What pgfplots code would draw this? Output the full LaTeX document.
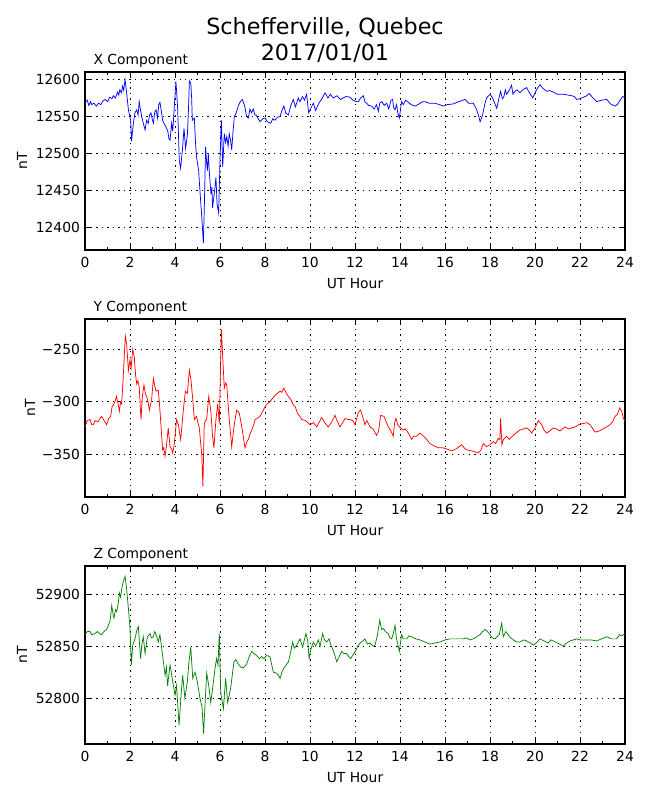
\documentclass[border=0pt]{standalone}
\usepackage{fontspec}
\setmainfont{DejaVu Sans}
\usepackage{pgfplots}
\pgfplotsset{compat=1.18}
\definecolor{mplgreen}{rgb}{0,0.5,0}
\pgfplotsset{
 magaxis/.style={
  scale only axis, width=405pt, height=133.5pt, anchor=north west,
  xmin=0, xmax=24, xtick={0,2,...,24}, minor xtick={1,3,...,23},
  xticklabels={0,2,4,6,8,10,12,14,16,18,20,22,24},
  scaled ticks=false, scaled y ticks=false,
  grid=major,
  major grid style={black, line width=0.52pt, dash pattern=on 1.04pt off 3.13pt},
  tick align=inside, tick pos=both,
  major tick length=4.2pt, minor tick length=2.1pt,
  tick style={black, line width=0.52pt},
  axis line style={line width=1pt},
  tick label style={font=\fontsize{10.4}{12}\selectfont},
  label style={font=\fontsize{10.4}{12}\selectfont},
  xticklabel style={anchor=base, yshift=-13pt, inner sep=0pt},
  yticklabel style={anchor=east, inner sep=0pt, xshift=-3.6pt},
  xlabel={UT Hour},
  xlabel style={at={(axis description cs:0.5,0)}, anchor=base, yshift=-28.5pt, inner sep=0pt},
  ylabel={nT},
  ylabel style={anchor=center, inner sep=0pt},
 }
}
\begin{document}
\begin{tikzpicture}
\path[use as bounding box] (0,0) rectangle (487.5pt,-600pt);
% X component
\begin{axis}[magaxis, at={(63.75pt,-54pt)},
  ymin=12370, ymax=12610, ytick={12400,12450,12500,12550,12600},
  yticklabels={12400,12450,12500,12550,12600},
  ylabel style={at={(axis description cs:-0.1167,0.5)}}]
\addplot[blue, line width=0.55pt] table {
0.00 12569
0.10 12572
0.17 12565
0.25 12570
0.30 12566
0.40 12568
0.50 12564
0.60 12568
0.70 12566
0.80 12571
0.90 12573
1.00 12570
1.10 12576
1.20 12574
1.26 12578
1.35 12575
1.45 12583
1.50 12579
1.55 12586
1.62 12582
1.67 12591
1.72 12585
1.78 12600
1.85 12582
1.93 12559
2.03 12545
2.07 12517
2.15 12541
2.22 12555
2.30 12559
2.36 12552
2.41 12570
2.47 12558
2.52 12550
2.60 12540
2.67 12532
2.74 12545
2.81 12541
2.87 12552
2.93 12555
3.00 12545
3.04 12541
3.10 12556
3.16 12559
3.22 12548
3.28 12566
3.33 12569
3.38 12560
3.45 12545
3.52 12540
3.60 12536
3.68 12530
3.73 12520
3.78 12518
3.85 12541
3.90 12530
3.96 12559
4.04 12597
4.08 12580
4.12 12559
4.19 12491
4.25 12480
4.33 12505
4.40 12534
4.47 12507
4.55 12525
4.60 12560
4.64 12598
4.70 12595
4.74 12575
4.77 12545
4.86 12548
4.92 12510
4.96 12495
5.05 12477
5.14 12436
5.20 12410
5.26 12379
5.30 12423
5.36 12509
5.40 12490
5.44 12477
5.48 12500
5.53 12473
5.60 12445
5.64 12455
5.67 12427
5.72 12440
5.76 12450
5.82 12468
5.87 12432
5.94 12420
6.00 12491
6.06 12545
6.12 12482
6.19 12527
6.25 12515
6.30 12523
6.36 12510
6.41 12527
6.47 12518
6.52 12505
6.58 12530
6.64 12550
6.72 12555
6.81 12564
6.90 12570
7.00 12573
7.05 12568
7.10 12564
7.18 12550
7.26 12548
7.33 12560
7.40 12555
7.48 12560
7.55 12552
7.60 12552
7.70 12547
7.78 12543
7.90 12547
8.00 12548
8.10 12543
8.25 12541
8.35 12547
8.44 12545
8.55 12549
8.67 12550
8.75 12558
8.84 12564
8.92 12555
9.04 12552
9.15 12565
9.26 12573
9.35 12563
9.48 12575
9.55 12570
9.67 12577
9.75 12572
9.85 12580
9.94 12555
10.05 12562
10.15 12568
10.25 12558
10.33 12564
10.44 12570
10.55 12575
10.67 12582
10.80 12575
10.90 12580
11.04 12575
11.20 12578
11.35 12573
11.48 12575
11.60 12577
11.78 12576
11.90 12572
12.07 12570
12.15 12570
12.25 12575
12.37 12578
12.45 12569
12.52 12568
12.60 12565
12.74 12564
12.85 12560
12.95 12566
13.04 12557
13.10 12568
13.19 12570
13.30 12565
13.41 12568
13.50 12560
13.60 12572
13.67 12573
13.72 12562
13.78 12559
13.85 12566
13.90 12555
13.97 12548
14.07 12570
14.15 12566
14.25 12572
14.37 12569
14.50 12566
14.67 12564
14.85 12567
15.00 12570
15.11 12570
15.30 12568
15.56 12568
15.75 12566
15.93 12564
16.10 12566
16.37 12567
16.60 12570
16.89 12573
17.05 12568
17.26 12568
17.41 12559
17.50 12550
17.56 12543
17.67 12552
17.78 12568
17.85 12575
18.00 12580
18.10 12576
18.18 12570
18.30 12561
18.40 12575
18.47 12584
18.55 12574
18.62 12577
18.68 12586
18.74 12580
18.85 12585
18.96 12592
19.02 12580
19.11 12584
19.20 12586
19.33 12582
19.45 12586
19.63 12589
19.75 12582
19.90 12575
20.05 12585
20.22 12593
20.35 12588
20.52 12584
20.65 12585
20.81 12583
21.00 12580
21.26 12580
21.45 12579
21.63 12578
21.75 12577
21.85 12573
22.00 12574
22.15 12576
22.30 12578
22.41 12581
22.55 12576
22.74 12570
22.95 12572
23.19 12573
23.35 12567
23.56 12564
23.65 12566
23.70 12568
23.80 12573
23.90 12577
24.00 12575
};
\end{axis}
% Y component
\begin{axis}[magaxis, at={(63.75pt,-239.25pt)},
  ymin=-391, ymax=-221, ytick={-350,-300,-250},
  yticklabels={−350,−300,−250},
  ylabel style={at={(axis description cs:-0.1019,0.5)}}]
\addplot[red, line width=0.55pt] table {
0.00 -324
0.10 -318
0.22 -317
0.30 -322
0.37 -322
0.45 -318
0.59 -319
0.66 -316
0.74 -314
0.85 -318
0.96 -322
1.05 -316
1.14 -314
1.20 -305
1.26 -303
1.33 -300
1.40 -295
1.47 -302
1.53 -309
1.58 -300
1.63 -302
1.70 -276
1.79 -237
1.85 -245
1.93 -270
2.00 -260
2.05 -268
2.12 -250
2.19 -257
2.25 -275
2.30 -283
2.35 -280
2.41 -286
2.49 -317
2.55 -295
2.62 -284
2.68 -292
2.74 -295
2.80 -300
2.86 -308
2.96 -298
3.04 -278
3.10 -285
3.16 -290
3.26 -289
3.33 -308
3.40 -330
3.45 -346
3.50 -344
3.56 -352
3.63 -340
3.70 -325
3.78 -343
3.85 -345
3.90 -349
3.97 -340
4.07 -317
4.15 -322
4.25 -336
4.30 -325
4.37 -308
4.46 -290
4.55 -292
4.64 -270
4.71 -279
4.79 -298
4.86 -317
4.96 -314
5.02 -320
5.08 -325
5.19 -351
5.24 -381
5.30 -321
5.41 -316
5.50 -295
5.59 -308
5.67 -333
5.73 -344
5.82 -317
5.90 -302
5.97 -321
6.06 -231
6.12 -257
6.19 -287
6.25 -282
6.30 -284
6.40 -314
6.52 -343
6.62 -324
6.74 -308
6.86 -311
6.99 -327
7.11 -344
7.20 -338
7.26 -336
7.35 -330
7.41 -327
7.50 -322
7.56 -317
7.65 -316
7.78 -314
7.90 -309
8.00 -305
8.10 -302
8.22 -300
8.33 -297
8.44 -294
8.55 -292
8.67 -290
8.75 -291
8.84 -287
8.95 -292
9.04 -295
9.15 -298
9.26 -303
9.35 -305
9.44 -311
9.55 -314
9.63 -317
9.80 -318
10.00 -322
10.15 -320
10.30 -324
10.40 -320
10.52 -315
10.65 -320
10.81 -324
10.95 -320
11.11 -313
11.20 -318
11.33 -324
11.45 -320
11.56 -316
11.70 -317
11.78 -317
11.90 -318
12.00 -322
12.15 -310
12.25 -308
12.35 -315
12.44 -322
12.52 -318
12.67 -324
12.80 -326
12.96 -332
13.05 -328
13.14 -313
13.29 -314
13.40 -320
13.48 -324
13.60 -328
13.70 -333
13.76 -320
13.82 -316
13.90 -322
13.97 -324
14.15 -327
14.25 -326
14.37 -330
14.52 -336
14.60 -333
14.74 -333
14.88 -330
15.00 -332
15.15 -335
15.33 -340
15.50 -342
15.70 -344
15.90 -344
16.07 -345
16.30 -347
16.50 -345
16.74 -341
16.85 -344
16.96 -346
17.19 -347
17.35 -348
17.48 -349
17.60 -346
17.70 -340
17.85 -343
18.00 -341
18.15 -338
18.25 -340
18.37 -335
18.44 -336
18.47 -316
18.53 -341
18.60 -336
18.74 -333
18.85 -336
19.04 -332
19.15 -330
19.33 -327
19.50 -326
19.63 -325
19.75 -327
19.85 -330
20.00 -325
20.15 -318
20.30 -322
20.40 -327
20.52 -330
20.65 -328
20.81 -325
20.95 -326
21.11 -328
21.22 -326
21.33 -324
21.50 -326
21.63 -325
21.80 -324
21.93 -322
22.10 -321
22.30 -320
22.45 -322
22.67 -329
22.85 -328
23.11 -325
23.33 -322
23.45 -319
23.56 -314
23.66 -312
23.76 -306
23.85 -309
23.93 -316
24.00 -318
};
\end{axis}
% Z component
\begin{axis}[magaxis, at={(63.75pt,-424.5pt)},
  ymin=52756, ymax=52927, ytick={52800,52850,52900},
  yticklabels={52800,52850,52900},
  ylabel style={at={(axis description cs:-0.1167,0.5)}}]
\addplot[mplgreen, line width=0.55pt] table {
0.00 52861
0.10 52864
0.22 52864
0.30 52861
0.44 52862
0.55 52864
0.65 52862
0.74 52861
0.80 52863
0.89 52865
0.96 52866
1.04 52870
1.12 52875
1.19 52889
1.25 52880
1.29 52877
1.35 52885
1.41 52883
1.47 52890
1.53 52901
1.58 52897
1.63 52905
1.70 52912
1.78 52917
1.85 52905
1.93 52886
2.00 52867
2.06 52832
2.12 52851
2.22 52857
2.30 52865
2.37 52869
2.47 52838
2.53 52852
2.59 52859
2.67 52843
2.77 52859
2.89 52862
2.95 52858
3.04 52859
3.10 52864
3.16 52861
3.26 52854
3.33 52861
3.45 52841
3.56 52822
3.62 52830
3.67 52812
3.78 52832
3.90 52816
4.00 52803
4.07 52812
4.18 52774
4.27 52803
4.34 52822
4.44 52800
4.55 52816
4.62 52835
4.70 52849
4.79 52819
4.89 52825
4.99 52816
5.11 52800
5.20 52792
5.27 52766
5.35 52800
5.41 52824
5.50 52812
5.59 52796
5.67 52809
5.78 52829
5.85 52838
5.91 52832
5.97 52862
6.03 52806
6.15 52790
6.25 52819
6.34 52796
6.47 52809
6.62 52835
6.70 52837
6.81 52833
6.92 52830
7.04 52829
7.19 52833
7.30 52840
7.41 52845
7.50 52843
7.63 52841
7.75 52838
7.85 52840
7.95 52838
8.07 52841
8.22 52840
8.30 52832
8.37 52825
8.52 52824
8.60 52822
8.67 52819
8.75 52825
8.84 52829
9.04 52835
9.15 52845
9.23 52854
9.30 52848
9.41 52851
9.56 52857
9.67 52849
9.75 52856
9.82 52862
9.90 52855
9.96 52838
10.05 52848
10.15 52854
10.25 52850
10.37 52856
10.45 52850
10.56 52862
10.65 52856
10.74 52854
10.85 52857
10.93 52851
11.05 52845
11.19 52835
11.30 52840
11.41 52845
11.50 52843
11.63 52843
11.72 52840
11.81 52838
11.92 52842
12.04 52846
12.12 52850
12.22 52853
12.35 52855
12.44 52857
12.55 52852
12.67 52853
12.80 52850
12.89 52851
13.00 52861
13.10 52875
13.18 52866
13.26 52867
13.35 52864
13.48 52862
13.55 52858
13.63 52857
13.70 52862
13.78 52870
13.84 52858
13.88 52854
13.97 52845
14.07 52861
14.15 52857
14.30 52857
14.40 52860
14.52 52859
14.70 52857
14.89 52856
15.10 52854
15.33 52852
15.55 52853
15.78 52854
16.00 52856
16.22 52857
16.50 52857
16.81 52857
16.95 52858
17.11 52856
17.25 52857
17.41 52859
17.55 52861
17.67 52864
17.78 52866
17.85 52865
18.00 52861
18.10 52858
18.22 52857
18.35 52860
18.41 52861
18.52 52872
18.59 52859
18.70 52864
18.81 52861
18.92 52858
19.04 52856
19.20 52854
19.33 52854
19.50 52856
19.63 52855
19.80 52853
19.93 52851
20.05 52853
20.22 52857
20.40 52855
20.59 52853
20.70 52856
20.81 52855
21.00 52853
21.26 52850
21.40 52853
21.56 52855
21.70 52856
21.85 52857
22.00 52856
22.30 52856
22.50 52856
22.74 52855
22.95 52857
23.19 52859
23.40 52857
23.63 52857
23.76 52861
23.85 52860
23.93 52861
24.00 52862
};
\end{axis}
\node[anchor=base, inner sep=0pt, font=\fontsize{16.7}{20}\selectfont] at (243.75pt,-25.7pt) {Schefferville, Quebec};
\node[anchor=base, inner sep=0pt, font=\fontsize{16.7}{20}\selectfont] at (243.75pt,-45pt) {2017/01/01};
\node[anchor=base west, inner sep=0pt, font=\fontsize{10.4}{12}\selectfont] at (70pt,-48.5pt) {X Component};
\node[anchor=base west, inner sep=0pt, font=\fontsize{10.4}{12}\selectfont] at (70pt,-233.8pt) {Y Component};
\node[anchor=base west, inner sep=0pt, font=\fontsize{10.4}{12}\selectfont] at (70pt,-419pt) {Z Component};
\end{tikzpicture}
\end{document}
